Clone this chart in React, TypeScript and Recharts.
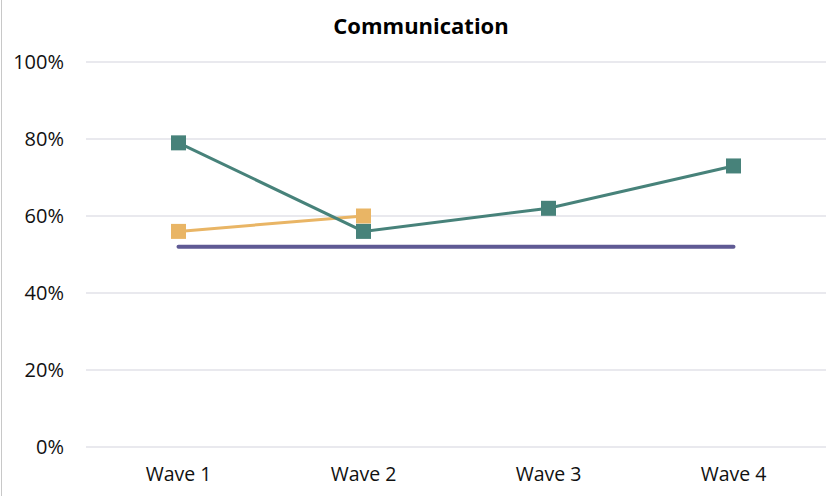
import React from 'react'
import { LineChart, Line, XAxis, YAxis, CartesianGrid } from 'recharts'

const waves = ['Wave 1', 'Wave 2', 'Wave 3', 'Wave 4']
const tealValues = [0.79, 0.56, 0.62, 0.73]
const orangeValues = [0.56, 0.6, null, null]
const navyValues = [0.52, 0.52, 0.52, 0.52]
const yTicks = [0, 0.2, 0.4, 0.6, 0.8, 1]

const data = waves.map((name, i) => ({
  name,
  teal: tealValues[i],
  orange: orangeValues[i],
  navy: navyValues[i],
}))

const font = "'Open Sans', sans-serif"

const SquareDot = (color: string) => (props: any) => {
  const { cx, cy } = props
  if (cx == null || cy == null || props.value == null) return <g />
  return <rect x={cx - 7.5} y={cy - 7.5} width={15} height={15} fill={color} />
}

export default function App() {
  return (
    <div style={{ position: 'absolute', left: 0, top: 0, width: 826, height: 496, background: '#fff', fontFamily: font }}>
      <div style={{ position: 'absolute', left: 1, top: 0, width: 1, height: 496, background: '#c8c8c8' }} />
      <div style={{ position: 'absolute', left: 0, top: 10, width: 842, textAlign: 'center', fontWeight: 700, fontSize: 22, color: '#000' }}>
        Communication
      </div>
      <LineChart width={826} height={496} data={data} margin={{ top: 62, right: 0, bottom: 0, left: 0 }}>
        <CartesianGrid vertical={false} stroke='#e2e2e8' strokeWidth={1.5} />
        <XAxis
          dataKey='name'
          axisLine={false}
          tickLine={false}
          height={49}
          tickMargin={14}
          padding={{ left: 92.5, right: 92.5 }}
          tick={{ fill: '#111', fontSize: 19.5, fontFamily: font }}
        />
        <YAxis
          domain={[0, 1]}
          ticks={yTicks}
          width={86}
          axisLine={false}
          tickLine={false}
          tickMargin={16}
          tickFormatter={(v) => `${Math.round(v * 100)}%`}
          tick={{ fill: '#111', fontSize: 20, fontFamily: font }}
        />
        <Line dataKey='navy' stroke='#5f5a94' strokeWidth={4} strokeLinecap='round' dot={false} activeDot={false} isAnimationActive={false} />
        <Line dataKey='orange' stroke='#e9b565' strokeWidth={3} dot={SquareDot('#e9b565')} activeDot={false} isAnimationActive={false} />
        <Line dataKey='teal' stroke='#47827a' strokeWidth={3} dot={SquareDot('#47827a')} activeDot={false} isAnimationActive={false} />
      </LineChart>
    </div>
  )
}
